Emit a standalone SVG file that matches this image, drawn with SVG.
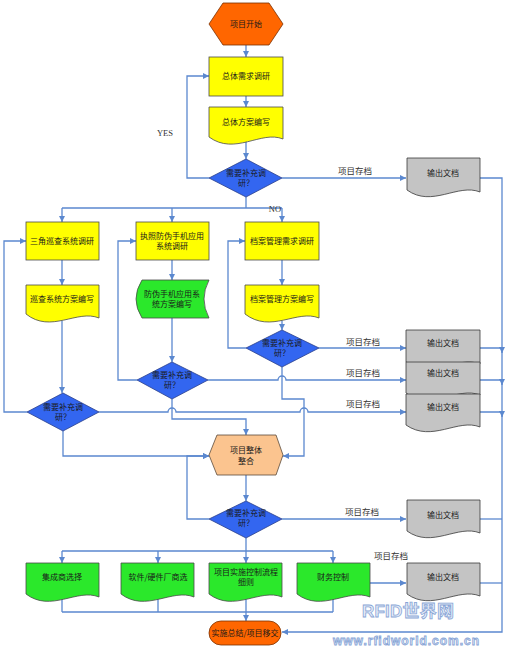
<svg xmlns="http://www.w3.org/2000/svg" width="506" height="650" viewBox="0 0 506 650">
<style>
.conn{fill:none;stroke:#5B88CF;stroke-width:1.3}
.yel{fill:#FFFF00;stroke:#4a4a4a;stroke-width:0.8}
.grn{fill:#2BE82B;stroke:#4a4a4a;stroke-width:0.8}
.gry{fill:#C4C4C4;stroke:#3a3a3a;stroke-width:0.8}
.blu{fill:#3366F0;stroke:#2a3f8a;stroke-width:0.8}
.org{fill:#FF6600;stroke:#7a3000;stroke-width:0.8}
.pch{fill:#FBC48F;stroke:#5a4a3a;stroke-width:0.8}
.t{font-family:"Noto Sans CJK SC","Liberation Sans",sans-serif;font-size:8px;text-anchor:middle;fill:#1a1a1a}
.lb{font-family:"Noto Sans CJK SC","Liberation Sans",sans-serif;font-size:8.5px;text-anchor:middle;fill:#333}
.en{font-family:"Liberation Serif",serif;font-size:8.5px;text-anchor:middle;fill:#333}
.wm{font-family:"Liberation Sans","Noto Sans CJK SC",sans-serif;font-weight:bold;text-anchor:middle;fill:#E3EAF7;stroke:#7B9BD2;stroke-width:0.8;opacity:0.9}
</style>
<defs>
<marker id="ah" viewBox="0 0 6 6" refX="6" refY="3" markerWidth="6" markerHeight="6" markerUnits="userSpaceOnUse" orient="auto">
<path d="M0,0 L6,3 L0,6 z" fill="#5B88CF"/>
</marker>
</defs>

<g id="connectors">
<path class="conn" d="M246,45 V57" marker-end="url(#ah)"/>
<path class="conn" d="M246,96 V107" marker-end="url(#ah)"/>
<path class="conn" d="M246,141 V159" marker-end="url(#ah)"/>
<path class="conn" d="M209,178 H187 V76 H209" marker-end="url(#ah)"/>
<path class="conn" d="M282,178 H406" marker-end="url(#ah)"/>
<path class="conn" d="M480,178 H502 V632 H282" marker-end="url(#ah)"/>
<path class="conn" d="M246,197 V208 M62,208 H282"/>
<path class="conn" d="M62,208 V222" marker-end="url(#ah)"/>
<path class="conn" d="M172,208 V222" marker-end="url(#ah)"/>
<path class="conn" d="M282,208 V222" marker-end="url(#ah)"/>
<path class="conn" d="M62,260 V285" marker-end="url(#ah)"/>
<path class="conn" d="M172,260 V280" marker-end="url(#ah)"/>
<path class="conn" d="M282,260 V285" marker-end="url(#ah)"/>
<path class="conn" d="M62,321 V393" marker-end="url(#ah)"/>
<path class="conn" d="M172,318 V362" marker-end="url(#ah)"/>
<path class="conn" d="M282,321 V330" marker-end="url(#ah)"/>
<path class="conn" d="M246,348 H228 V241 H245" marker-end="url(#ah)"/>
<path class="conn" d="M137,380 H118 V241 H136" marker-end="url(#ah)"/>
<path class="conn" d="M27,412 H4 V241 H26" marker-end="url(#ah)"/>
<path class="conn" d="M319,348 H406" marker-end="url(#ah)"/>
<path class="conn" d="M208,380 H278 A4,4 0 0 1 286,380 H406" marker-end="url(#ah)"/>
<path class="conn" d="M99,412 H168 A4,4 0 0 1 176,412 H300 A4,4 0 0 1 308,412 H406" marker-end="url(#ah)"/>
<path class="conn" d="M282,367 V399 H304 V456 H283" marker-end="url(#ah)"/>
<path class="conn" d="M172,399 V419 H246 V435" marker-end="url(#ah)"/>
<path class="conn" d="M63,431 V456 H209" marker-end="url(#ah)"/>
<path class="conn" d="M480,348 H502 V353" marker-end="url(#ah)"/>
<path class="conn" d="M480,380 H502 V385" marker-end="url(#ah)"/>
<path class="conn" d="M480,412 H502 V417" marker-end="url(#ah)"/>
<path class="conn" d="M246,475 V501" marker-end="url(#ah)"/>
<path class="conn" d="M209,519 H187 V456 H209" marker-end="url(#ah)"/>
<path class="conn" d="M282,519 H406" marker-end="url(#ah)"/>
<path class="conn" d="M480,519 H502"/>
<path class="conn" d="M246,538 V551 M62,551 H333"/>
<path class="conn" d="M62,551 V563" marker-end="url(#ah)"/>
<path class="conn" d="M158,551 V563" marker-end="url(#ah)"/>
<path class="conn" d="M246,551 V563" marker-end="url(#ah)"/>
<path class="conn" d="M333,551 V563" marker-end="url(#ah)"/>
<path class="conn" d="M62,598 V612 M158,598 V612 M333,598 V612 M62,612 H333"/>
<path class="conn" d="M246,598 V621" marker-end="url(#ah)"/>
<path class="conn" d="M370,583 H406" marker-end="url(#ah)"/>
<path class="conn" d="M480,583 H502"/>
<text class="en" x="165" y="136">YES</text>
<text class="en" x="275" y="212">NO</text>
<text class="lb" x="355" y="174">项目存档</text>
<text class="lb" x="363" y="345">项目存档</text>
<text class="lb" x="363" y="376">项目存档</text>
<text class="lb" x="363" y="407">项目存档</text>
<text class="lb" x="362" y="515">项目存档</text>
<text class="lb" x="391" y="559">项目存档</text>
</g>

<g id="start">
<polygon class="org" points="223,3 269,3 283,24 269,45 223,45 209,24"/>
<text class="t" x="246" y="27">项目开始</text>
</g>
<g id="req">
<rect class="yel" x="209" y="57" width="74" height="39"/>
<text class="t" x="246" y="79">总体需求调研</text>
</g>
<g id="plan">
<path class="yel" d="M209,107 H283 V139 C261,130 235,156 209,137 Z"/>
<text class="t" x="246" y="125">总体方案编写</text>
</g>
<g id="dec1">
<polygon class="blu" points="246,159 282,178 246,197 209,178"/>
<text class="t" x="246" y="176">需要补充调</text>
<text class="t" x="246" y="186">研？</text>
</g>
<g id="out1">
<path class="gry" d="M407,158 H480 V192 C458,183 432,208 407,190 Z"/>
<text class="t" x="443" y="176">输出文档</text>
</g>

<g id="boxA">
<rect class="yel" x="26" y="222" width="73" height="38"/>
<text class="t" x="62" y="244">三角巡查系统调研</text>
</g>
<g id="boxB">
<rect class="yel" x="136" y="222" width="73" height="38"/>
<text class="t" x="172" y="239">执照防伪手机应用</text>
<text class="t" x="172" y="249">系统调研</text>
</g>
<g id="boxC">
<rect class="yel" x="245" y="222" width="74" height="38"/>
<text class="t" x="282" y="244">档案管理需求调研</text>
</g>
<g id="docA">
<path class="yel" d="M26,285 H99 V318 C77,309 51,334 26,314 Z"/>
<text class="t" x="62" y="302">巡查系统方案编写</text>
</g>
<g id="docB">
<path class="grn" d="M142,280 H209 Q199,299 209,318 H142 Q130,299 142,280 Z"/>
<text class="t" x="172" y="297">防伪手机应用系</text>
<text class="t" x="172" y="307">统方案编写</text>
</g>
<g id="docC">
<path class="yel" d="M245,285 H319 V318 C297,309 271,334 245,314 Z"/>
<text class="t" x="282" y="302">档案管理方案编写</text>
</g>
<g id="decC">
<polygon class="blu" points="282,330 319,348 282,367 246,348"/>
<text class="t" x="282" y="346">需要补充调</text>
<text class="t" x="282" y="356">研？</text>
</g>
<g id="decB">
<polygon class="blu" points="172,362 208,380 172,399 137,380"/>
<text class="t" x="172" y="378">需要补充调</text>
<text class="t" x="172" y="388">研？</text>
</g>
<g id="decA">
<polygon class="blu" points="63,393 99,412 63,431 27,412"/>
<text class="t" x="63" y="410">需要补充调</text>
<text class="t" x="63" y="420">研？</text>
</g>
<g id="out2">
<path class="gry" d="M406,330 H480 V364 C458,355 432,380 406,362 Z"/>
<text class="t" x="443" y="346">输出文档</text>
</g>
<g id="out3">
<path class="gry" d="M406,362 H480 V395 C458,386 432,411 406,393 Z"/>
<text class="t" x="443" y="376">输出文档</text>
</g>
<g id="out4">
<path class="gry" d="M406,394 H480 V427 C458,418 432,443 406,425 Z"/>
<text class="t" x="443" y="410">输出文档</text>
</g>
<g id="integrate">
<polygon class="pch" points="217,435 276,435 283,455 276,475 217,475 209,455"/>
<text class="t" x="246" y="453">项目整体</text>
<text class="t" x="246" y="464">整合</text>
</g>
<g id="dec4">
<polygon class="blu" points="246,501 282,519 246,538 209,519"/>
<text class="t" x="246" y="516">需要补充调</text>
<text class="t" x="246" y="526">研？</text>
</g>
<g id="out5">
<path class="gry" d="M407,500 H480 V533 C458,524 432,549 407,531 Z"/>
<text class="t" x="443" y="518">输出文档</text>
</g>
<g id="g1">
<path class="grn" d="M26,563 H99 V597 C77,588 51,613 26,594 Z"/>
<text class="t" x="62" y="580">集成商选择</text>
</g>
<g id="g2">
<path class="grn" d="M121,563 H194 V597 C172,588 146,613 121,594 Z"/>
<text class="t" x="158" y="580">软件/硬件厂商选</text>
</g>
<g id="g3">
<path class="grn" d="M209,563 H282 V597 C260,588 234,613 209,594 Z"/>
<text class="t" x="246" y="575">项目实施控制流程</text>
<text class="t" x="246" y="585">细则</text>
</g>
<g id="g4">
<path class="grn" d="M297,563 H370 V597 C348,588 322,613 297,594 Z"/>
<text class="t" x="333" y="580">财务控制</text>
</g>
<g id="out6">
<path class="gry" d="M407,563 H480 V596 C458,587 432,612 407,594 Z"/>
<text class="t" x="443" y="580">输出文档</text>
</g>
<g id="end">
<rect class="org" x="209" y="621" width="72" height="24" rx="12"/>
<text class="t" x="245" y="636">实施总结/项目移交</text>
</g>

<text class="wm" x="408" y="617" font-size="17" textLength="92">RFID世界网</text>
<text class="wm" x="406" y="645" font-size="12" textLength="146">www.rfidworld.com.cn</text>
</svg>
